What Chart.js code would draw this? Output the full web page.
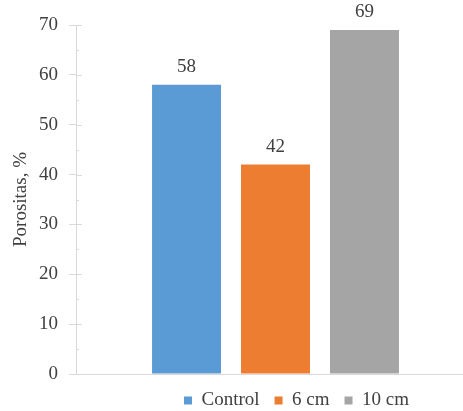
<!DOCTYPE html>
<html>
<head>
<meta charset="utf-8">
<script src="https://cdn.jsdelivr.net/npm/chart.js@4/dist/chart.umd.min.js"></script>
<style>
  html, body { margin: 0; padding: 0; background: #fff; overflow: hidden; width: 463px; height: 411px; }
  #wrap { width: 475px; height: 411px; position: relative; }
</style>
</head>
<body>
<div id="wrap"><canvas id="chart"></canvas></div>
<script>
// Porosity per treatment
const seriesNames = ['Control', '6 cm', '10 cm'];
const porosity = [58, 42, 69];
const seriesColors = ['#5B9BD5', '#ED7D31', '#A5A5A5'];
const yTicks = [0, 10, 20, 30, 40, 50, 60, 70];

const FONT = '"Liberation Serif", "Times New Roman", serif';
const TEXT = '#404040';
const AXIS = '#D9D9D9';

// Value labels above each bar
const valueLabels = {
  id: 'valueLabels',
  afterDatasetsDraw(chart) {
    const ctx = chart.ctx;
    ctx.save();
    ctx.font = '19px ' + FONT;
    ctx.fillStyle = TEXT;
    ctx.textAlign = 'center';
    ctx.textBaseline = 'middle';
    chart.data.datasets.forEach((ds, i) => {
      const bar = chart.getDatasetMeta(i).data[0];
      ctx.fillText(String(ds.data[0]), bar.x, bar.y - 18);
    });
    ctx.restore();
  }
};

// Inner halves of the major ticks plus minor ticks on the value axis
const axisTicks = {
  id: 'axisTicks',
  afterDraw(chart) {
    const y = chart.scales.y;
    const x0 = chart.chartArea.left;
    const ctx = chart.ctx;
    ctx.save();
    ctx.strokeStyle = AXIS;
    ctx.lineWidth = 1;
    ctx.beginPath();
    for (let i = 0; i < yTicks.length; i++) {
      const py = Math.round(y.getPixelForValue(yTicks[i])) + 0.5;
      ctx.moveTo(x0, py); ctx.lineTo(x0 + 6, py);
      if (i < yTicks.length - 1) {
        const pm = Math.round(y.getPixelForValue((yTicks[i] + yTicks[i + 1]) / 2)) + 0.5;
        ctx.moveTo(x0, pm); ctx.lineTo(x0 + 3, pm);
      }
    }
    ctx.stroke();
    ctx.restore();
  }
};

// Legend placement under the bars
const legendPlace = {
  id: 'legendPlace',
  afterLayout(chart) {
    const lg = chart.legend;
    if (!lg) return;
    lg.left = 169;
    lg.right = 475;
    lg.width = lg.right - lg.left;
    const h = lg.height;
    lg.top = 376;
    lg.bottom = lg.top + h;
  }
};

new Chart(document.getElementById('chart'), {
  type: 'bar',
  data: {
    labels: [''],
    datasets: seriesNames.map((name, i) => ({
      label: name,
      data: [porosity[i]],
      backgroundColor: seriesColors[i],
      borderWidth: 0,
      barPercentage: 0.775,
      categoryPercentage: 0.669
    }))
  },
  options: {
    responsive: true,
    maintainAspectRatio: false,
    animation: false,
    devicePixelRatio: 1,
    layout: { padding: { top: 25, right: 0, bottom: -7, left: 0 } },
    plugins: {
      tooltip: { enabled: false },
      legend: {
        position: 'bottom',
        align: 'start',
        labels: {
          boxWidth: 8,
          boxHeight: 8,
          padding: 15,
          color: TEXT,
          font: { family: FONT, size: 19 }
        }
      }
    },
    scales: {
      x: {
        grid: { display: false, drawTicks: false },
        border: { display: true, color: AXIS, width: 1 },
        ticks: { display: false }
      },
      y: {
        min: 0,
        max: 70,
        afterFit(scale) { scale.width = 76; },
        afterBuildTicks(scale) { scale.ticks = yTicks.map(v => ({ value: v })); },
        grid: { display: true, drawOnChartArea: false, drawTicks: true, tickLength: 7, color: AXIS },
        border: { display: true, color: AXIS, width: 1 },
        ticks: {
          padding: 11,
          color: TEXT,
          font: { family: FONT, size: 19 }
        },
        title: {
          display: true,
          text: 'Porositas, %',
          color: TEXT,
          font: { family: FONT, size: 19 },
          padding: { top: 10, bottom: 0 }
        }
      }
    }
  },
  plugins: [valueLabels, axisTicks, legendPlace]
});
</script>
</body>
</html>
